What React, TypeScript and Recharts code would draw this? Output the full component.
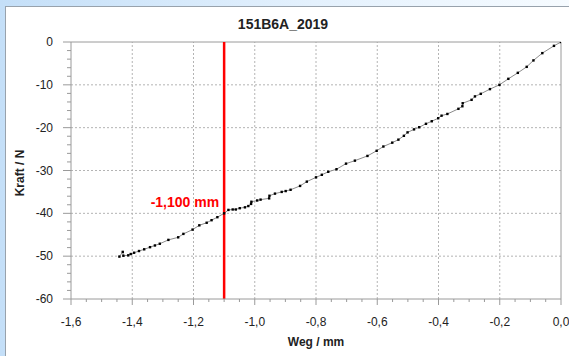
import React from 'react';
import { LineChart, Line, XAxis, YAxis, ReferenceLine } from 'recharts';

// Weg (mm) and Kraft (N) samples of the measurement
const weg = [
  -1.442, -1.431, -1.429, -1.413, -1.405, -1.394, -1.378, -1.361, -1.342, -1.326,
  -1.31, -1.282, -1.25, -1.233, -1.203, -1.181, -1.157, -1.141, -1.122, -1.1,
  -1.086, -1.072, -1.062, -1.049, -1.032, -1.021, -1.012, -1.011, -0.992, -0.981,
  -0.953, -0.952, -0.934, -0.912, -0.899, -0.883, -0.852, -0.83, -0.8, -0.781,
  -0.76, -0.733, -0.702, -0.673, -0.632, -0.602, -0.58, -0.551, -0.531, -0.513,
  -0.501, -0.48, -0.463, -0.441, -0.422, -0.401, -0.39, -0.371, -0.335, -0.322,
  -0.321, -0.292, -0.281, -0.262, -0.232, -0.201, -0.172, -0.141, -0.112, -0.09,
  -0.061, -0.023, 0,
];
const kraft = [
  -50.1, -49.0, -49.9, -49.8, -49.5, -49.2, -48.8, -48.4, -47.9, -47.5,
  -47.1, -46.2, -45.6, -44.8, -43.8, -42.8, -42.2, -41.6, -40.9, -40.0,
  -39.2, -39.1, -39.1, -38.8, -38.6, -38.3, -37.8, -37.3, -37.0, -36.8,
  -36.5, -35.9, -35.4, -35.0, -34.8, -34.5, -33.6, -32.6, -31.6, -31.0,
  -30.3, -29.7, -28.4, -27.7, -26.6, -25.4, -24.4, -23.5, -22.8, -21.9,
  -21.1, -20.4, -19.9, -19.1, -18.5, -17.8, -17.2, -16.8, -15.6, -15.0,
  -14.3, -13.5, -12.7, -12.1, -11.0, -10.0, -8.6, -7.2, -5.8, -4.3,
  -2.6, -0.9, 0,
];

// labelled ticks / grid
const xMajor = [-1.6, -1.4, -1.2, -1.0, -0.8, -0.6, -0.4, -0.2, 0];
const yMajor = [0, -10, -20, -30, -40, -50, -60];
// minor ticks: 0.05 mm and 2 N
const xTicks = Array.from({ length: 33 }, (_, i) => Math.round((-1.6 + i * 0.05) * 100) / 100);
const yTicks = Array.from({ length: 31 }, (_, i) => -60 + i * 2);

const markerWeg = -1.1;
const markerLabel = '-1,100 mm';

const data = weg.map((w, i) => ({ weg: w, kraft: kraft[i] }));

const FONT = "Arial, 'Liberation Sans', sans-serif";
const AXIS = '#9a9a9a';
const GRID = '#b4b4b4';

const isMajor = (v: number, list: number[]) => list.some((m) => Math.abs(m - v) < 1e-6);
const fmt = (v: number, d: number) => v.toFixed(d).replace('.', ',');

const XTick = ({ x, y, payload }: any) => {
  const major = isMajor(payload.value, xMajor);
  return (
    <g>
      <line x1={x} y1={y} x2={x} y2={y + (major ? 6 : 3)} stroke={AXIS} />
      {major && (
        <text x={x} y={y + 27} textAnchor="middle" fontSize={12} fontFamily={FONT} fill="#222">
          {fmt(payload.value, 1)}
        </text>
      )}
    </g>
  );
};

const YTick = ({ x, y, payload }: any) => {
  const major = isMajor(payload.value, yMajor);
  return (
    <g>
      <line x1={x - (major ? 8 : 4)} y1={y} x2={x} y2={y} stroke={AXIS} />
      {major && (
        <text x={x - 18} y={y + 4} textAnchor="end" fontSize={12} fontFamily={FONT} fill="#222">
          {fmt(payload.value, 0)}
        </text>
      )}
    </g>
  );
};

const Dot = ({ cx, cy, index }: any) => (
  <rect key={`d-${index}`} x={cx - 1.2} y={cy - 1.2} width={2.4} height={2.4} fill="#000" />
);

export default function App() {
  return (
    <div
      style={{
        position: 'absolute',
        left: 0,
        top: 0,
        width: 569,
        height: 356,
        overflow: 'hidden',
        background: 'linear-gradient(to right, #c4dff8, #e4f1fd 55%, #f6fbff)',
      }}
    >
      <div
        style={{
          position: 'absolute',
          left: 5,
          top: 6,
          right: 0,
          bottom: 0,
          background: '#fff',
          borderLeft: '1px solid #98a2ac',
          borderTop: '1px solid #98a2ac',
        }}
      />
      <div style={{ position: 'absolute', left: 0, top: 0 }}>
        <LineChart width={569} height={356} data={data} margin={{ top: 42, right: 8, bottom: 0, left: 0 }}>
          <XAxis
            dataKey="weg"
            type="number"
            domain={[-1.6, 0]}
            ticks={xTicks}
            interval={0}
            allowDataOverflow
            height={57}
            stroke={AXIS}
            tickLine={false}
            tickSize={0}
            tickMargin={0}
            tick={<XTick />}
          />
          <YAxis
            type="number"
            domain={[-60, 0]}
            ticks={yTicks}
            interval={0}
            allowDataOverflow
            width={71}
            stroke={AXIS}
            tickLine={false}
            tickSize={0}
            tickMargin={0}
            tick={<YTick />}
          />
          {xMajor.slice(1, -1).map((v) => (
            <ReferenceLine key={`gx${v}`} x={v} stroke={GRID} strokeDasharray="2 2" />
          ))}
          {yMajor.slice(1, -1).map((v) => (
            <ReferenceLine key={`gy${v}`} y={v} stroke={GRID} strokeDasharray="2 2" />
          ))}
          <ReferenceLine y={0} stroke={AXIS} />
          <ReferenceLine x={0} stroke={AXIS} />
          <Line
            dataKey="kraft"
            type="linear"
            stroke="#8c8c8c"
            strokeWidth={1}
            dot={<Dot />}
            activeDot={false}
            isAnimationActive={false}
          />
          <ReferenceLine
            x={markerWeg}
            stroke="#ff0000"
            strokeWidth={2.5}
            label={({ viewBox }: any) => (
              <text
                x={viewBox.x - 5}
                y={viewBox.y + 165}
                textAnchor="end"
                fontSize={14}
                fontWeight="bold"
                fontFamily={FONT}
                fill="#ff0000"
              >
                {markerLabel}
              </text>
            )}
          />
        </LineChart>
      </div>
      <svg width={569} height={356} style={{ position: 'absolute', left: 0, top: 0, pointerEvents: 'none' }}>
        <text x={283} y={29} textAnchor="middle" fontSize={14} fontWeight="bold" fontFamily={FONT} fill="#222">
          151B6A_2019
        </text>
        <text
          x={24}
          y={173}
          textAnchor="middle"
          fontSize={12}
          fontWeight="bold"
          fontFamily={FONT}
          fill="#222"
          transform="rotate(-90 24 173)"
        >
          Kraft / N
        </text>
        <text x={316} y={346} textAnchor="middle" fontSize={12} fontWeight="bold" fontFamily={FONT} fill="#222">
          Weg / mm
        </text>
      </svg>
    </div>
  );
}
